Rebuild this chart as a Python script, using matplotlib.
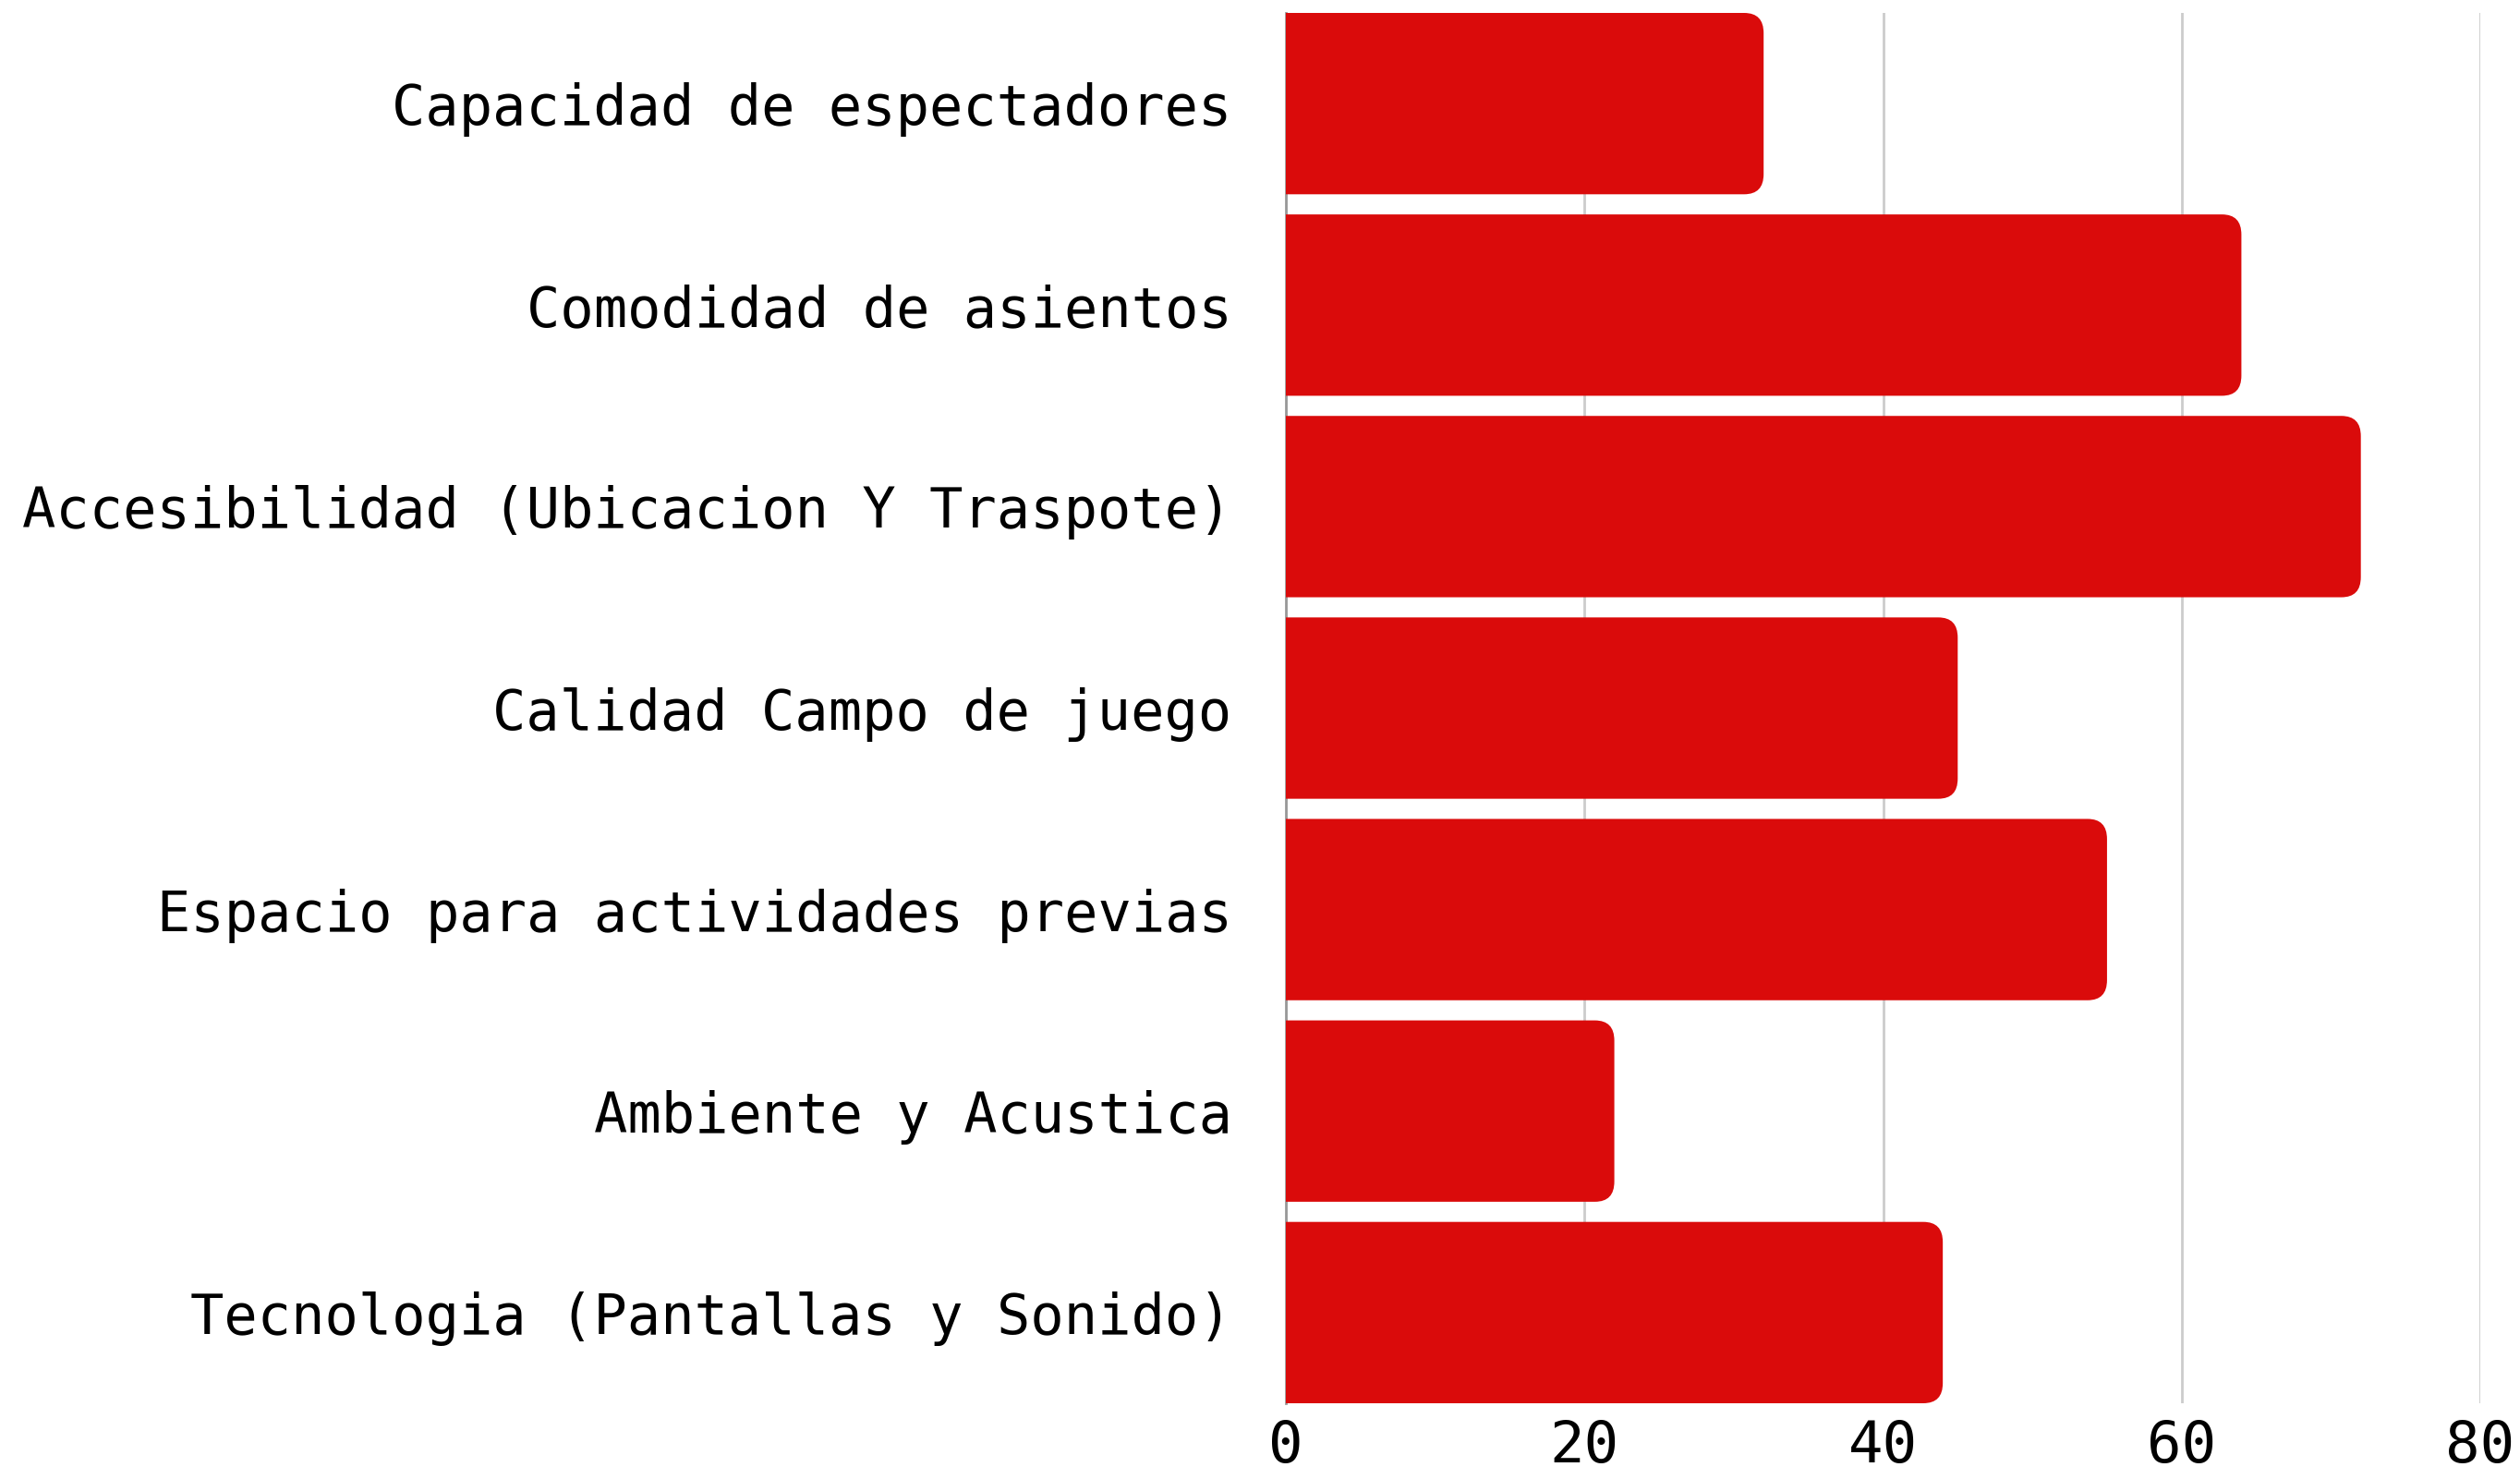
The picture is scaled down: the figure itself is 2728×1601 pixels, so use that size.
import matplotlib
matplotlib.use("Agg")
import matplotlib.pyplot as plt
from matplotlib.patches import PathPatch
from matplotlib.path import Path

categorias = [
    "Capacidad de espectadores",
    "Comodidad de asientos",
    "Accesibilidad (Ubicacion Y Traspote)",
    "Calidad Campo de juego",
    "Espacio para actividades previas",
    "Ambiente y Acustica",
    "Tecnologia (Pantallas y Sonido)",
]
valores = [32, 64, 72, 45, 55, 22, 44]
ticks = [0, 20, 40, 60, 80]

rojo = "#DA0B0B"
plt.rcParams["font.family"] = ["DejaVu Sans Mono", "Liberation Mono"]

fig = plt.figure(figsize=(27.28, 16.01), dpi=100)
ax = fig.add_axes([1392 / 2728, 1 - 1519 / 1601, (2685 - 1392) / 2728, (1519 - 14) / 1601])


def barra_redondeada(ax, y, v, alto, rx, ry):
    # barra con esquinas derechas redondeadas
    y0, y1 = y - alto / 2, y + alto / 2
    verts = [(0, y0), (v - rx, y0), (v, y0), (v, y0 + ry),
             (v, y1 - ry), (v, y1), (v - rx, y1), (0, y1), (0, y0)]
    codes = [Path.MOVETO, Path.LINETO, Path.CURVE3, Path.CURVE3,
             Path.LINETO, Path.CURVE3, Path.CURVE3, Path.LINETO, Path.CLOSEPOLY]
    ax.add_patch(PathPatch(Path(verts, codes), fc=rojo, ec="none", zorder=3))


alto = 0.9
for i, v in enumerate(valores):
    barra_redondeada(ax, i, v, alto, 1.3, 0.1)

ax.set_xlim(0, 80)
ax.set_ylim(len(categorias) - 0.55, -0.45)
ax.set_yticks(range(len(categorias)))
ax.set_yticklabels(categorias, fontsize=43.5, va="center_baseline")
ax.set_xticks(ticks)
ax.set_xticklabels([str(t) for t in ticks], fontsize=45)
ax.tick_params(axis="both", length=0)
ax.tick_params(axis="y", pad=42)
ax.tick_params(axis="x", pad=12)
ax.grid(axis="x", color="#CCCCCC", linewidth=2, zorder=0)
ax.set_axisbelow(True)
for s in ["top", "right", "bottom"]:
    ax.spines[s].set_visible(False)
ax.spines["left"].set_color("#999999")
ax.spines["left"].set_linewidth(2)

fig.savefig("out.png", dpi=100)
